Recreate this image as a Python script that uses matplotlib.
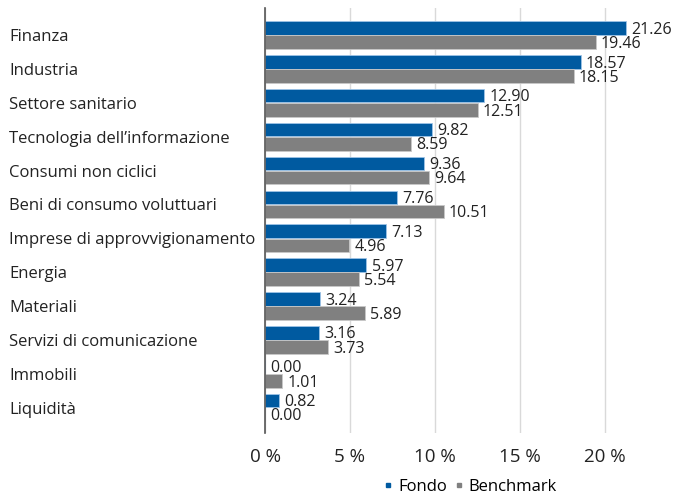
import matplotlib.pyplot as plt
import numpy as np
from matplotlib.lines import Line2D

# sector weights, fund vs benchmark (%)
sectors = ['Finanza', 'Industria', 'Settore sanitario', 'Tecnologia dell\u2019informazione',
           'Consumi non ciclici', 'Beni di consumo voluttuari', 'Imprese di approvvigionamento',
           'Energia', 'Materiali', 'Servizi di comunicazione', 'Immobili', 'Liquidità']
fondo = [21.26, 18.57, 12.90, 9.82, 9.36, 7.76, 7.13, 5.97, 3.24, 3.16, 0.00, 0.82]
benchmark = [19.46, 18.15, 12.51, 8.59, 9.64, 10.51, 4.96, 5.54, 5.89, 3.73, 1.01, 0.00]
xticks = [0, 5, 10, 15, 20]

blue = '#005AA0'
grey = '#808080'

plt.rcParams['font.family'] = ['Open Sans', 'DejaVu Sans']

fig = plt.figure(figsize=(6.75, 4.97), dpi=100)
ax = fig.add_axes([265 / 675, 1 - 433 / 497, 410 / 675, 425 / 497])

y = np.arange(len(sectors))
h = 0.4
b1 = ax.barh(y - h / 2 - 0.01, fondo, height=h, color=blue, edgecolor='#9ec3e6', linewidth=0.6, zorder=3)
b2 = ax.barh(y + h / 2 + 0.01, benchmark, height=h, color=grey, edgecolor='#c8c8c8', linewidth=0.6, zorder=3)

for bars, vals in [(b1, fondo), (b2, benchmark)]:
    for bar, v in zip(bars, vals):
        ax.text(v + 0.3, bar.get_y() + bar.get_height() / 2 + 0.05, '%.2f' % v,
                ha='left', va='center', fontsize=11.5, color='#222222', zorder=4)

ax.set_xlim(0, 410 / 17)
ax.set_ylim(len(sectors) - 0.25, -0.8)
ax.set_xticks(xticks)
ax.set_xticklabels(['%d %%' % t for t in xticks], fontsize=13.5, color='#222222')
ax.set_yticks(y)
ax.set_yticklabels(sectors, fontsize=12, color='#222222', ha='left')
ax.tick_params(axis='y', length=0, pad=256 * 0.72)
ax.tick_params(axis='x', length=0, pad=11)
ax.grid(axis='x', color='#d9d9d9', linewidth=1, zorder=0)
for s in ['top', 'right', 'bottom']:
    ax.spines[s].set_visible(False)
ax.spines['left'].set_color('#555555')
ax.spines['left'].set_linewidth(1.2)
ax.spines['left'].set_zorder(5)

handles = [Line2D([], [], marker='s', linestyle='', color=blue, markersize=3.5),
           Line2D([], [], marker='s', linestyle='', color=grey, markersize=3.5)]
fig.legend(handles, ['Fondo', 'Benchmark'], loc='center', bbox_to_anchor=(470 / 675, 1 - 487 / 497),
           ncol=2, frameon=False, fontsize=12, handlelength=0.6, handletextpad=0.3, columnspacing=0.4)

fig.savefig('out.png', dpi=100)
